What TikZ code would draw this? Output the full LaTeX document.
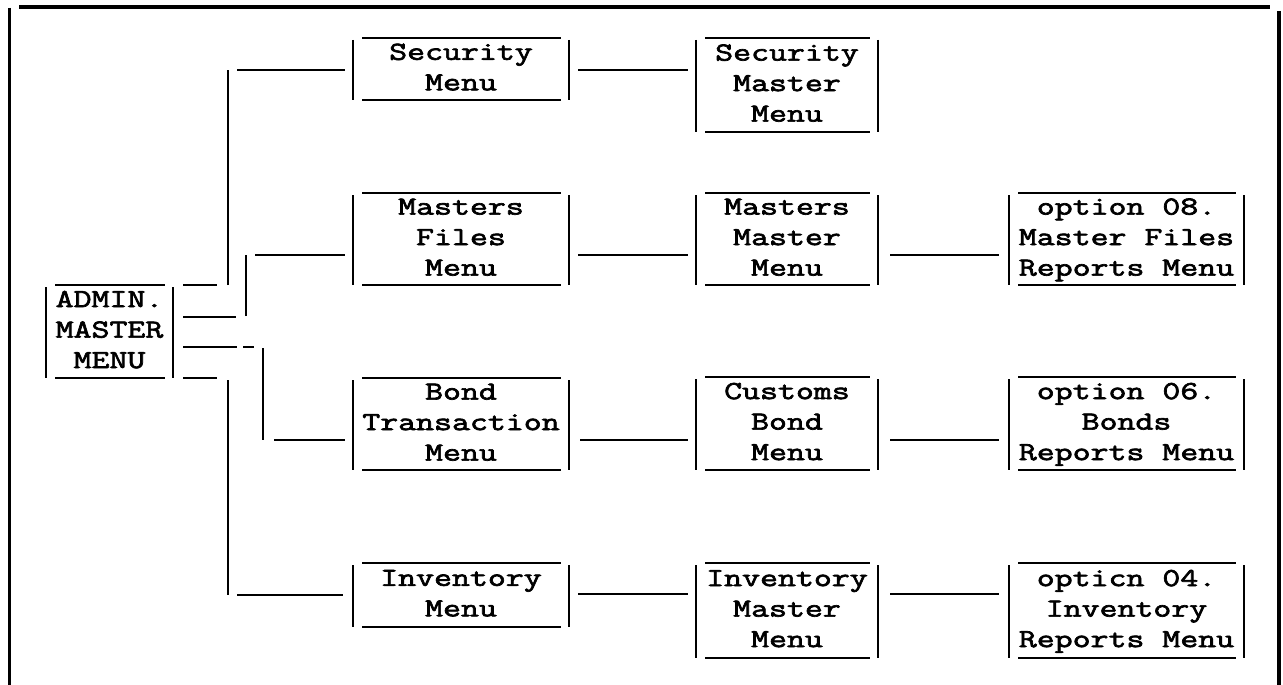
\documentclass[tikz,border=0pt]{standalone}
\usepackage{fontspec}
\usetikzlibrary{calc}
\newfontfamily\twfont{Latin Modern Mono}[FakeBold=2.6, FakeStretch=1.34]
\newcommand\twtext[1]{\raisebox{-3pt}{\begin{tabular}{@{}c@{}}#1\end{tabular}}}
\newcommand\twbox[1]{%
  \draw ($(#1.north west)+(0,2)$) -- (#1.south west);
  \draw ($(#1.north east)+(0,2)$) -- (#1.south east);
  \draw ($(#1.north west)+(9,0)$) -- ($(#1.north east)+(-8,0)$);
  \draw ($(#1.south west)+(9,0)$) -- ($(#1.south east)+(-8,0)$);}
\tikzset{
  menubox/.style={inner sep=0pt, outer sep=0pt,
    font=\twfont\fontsize{26}{30.5}\selectfont},
  col1/.style={menubox, minimum width=216pt},
  col2/.style={menubox, minimum width=182pt},
  col3/.style={menubox, minimum width=235pt},
  frame/.style={line width=3.2pt},
}
\begin{document}
\begin{tikzpicture}[x=1pt, y=-1pt, line width=2.8pt]
\useasboundingbox (0,0) rectangle (1283,685);
% outer frame
\draw[frame] (19,7) -- (1270,7);
\draw[frame] (9.5,8) -- (9.5,685);
\draw[frame] (1279,11) -- (1279,685);

% nodes
\node[menubox, minimum width=127pt, minimum height=93pt] (admin) at (109.5,331.5) {\twtext{ADMIN.\\MASTER\\MENU}};

\node[col1, minimum height=62pt] (secm) at (461,69) {\twtext{Security\\Menu}};
\node[col1, minimum height=92pt] (mfm) at (461,239) {\twtext{Masters\\Files\\Menu}};
\node[col1, minimum height=92pt] (btm) at (461,424) {\twtext{Bond\\Transaction\\Menu}};
\node[col1, minimum height=64pt] (invm) at (461,595) {\twtext{Inventory\\Menu}};

\node[col2, minimum height=94pt] (smm) at (787,85) {\twtext{Security\\Master\\Menu}};
\node[col2, minimum height=92pt] (mmm) at (787,239) {\twtext{Masters\\Master\\Menu}};
\node[col2, minimum height=93pt] (cbm) at (787,423.5) {\twtext{Customs\\Bond\\Menu}};
\node[col2, minimum height=95pt] (imm) at (787,610.5) {\twtext{Inventory\\Master\\Menu}};

\node[col3, minimum height=92pt] (o08) at (1126.5,239) {\twtext{option 08.\\Master Files\\Reports Menu}};
\node[col3, minimum height=93pt] (o06) at (1126.5,423.5) {\twtext{option 06.\\Bonds\\Reports Menu}};
\node[col3, minimum height=95pt] (o04) at (1126.5,610.5) {\twtext{opticn 04.\\Inventory\\Reports Menu}};

\foreach \b in {admin,secm,mfm,btm,invm,smm,mmm,cbm,imm,o08,o06,o04}{\twbox{\b}}

% row levels
\coordinate (r1) at (0,70);
\coordinate (r2) at (0,255);
\coordinate (r3) at (0,440);
\coordinate (r4) at (0,594);

% junctions of the tree
\coordinate (a1) at (228,285); \coordinate (a2) at (228,70);
\coordinate (b1) at (246,316); \coordinate (b2) at (246,255);
\coordinate (c1) at (263,348); \coordinate (c2) at (263,440);
\coordinate (d1) at (228,380); \coordinate (d2) at (228,595);

% tree from admin
\draw ($(admin.north east)+(10,0)$) -- ($(a1)+(-11,0)$);
\draw (a1) -- (a2);
\draw ($(a2)+(9,0)$) -- ($(secm.west |- a2)+(-8,0)$);

\draw ($(admin.east |- b1)+(10,1)$) -- ($(b1)+(-10,1)$);
\draw (b1) -- (b2);
\draw ($(b2)+(9,0)$) -- ($(mfm.west |- b2)+(-8,0)$);

\draw ($(admin.east |- c1)+(10,-1)$) -- ($(c1)+(-26,-1)$);
\draw ($(c1)+(-20,-1)$) -- ($(c1)+(-9,-1)$);
\draw (c1) -- (c2);
\draw ($(c2)+(11,0)$) -- ($(btm.west |- c2)+(-8,0)$);

\draw ($(admin.south east)+(10,0)$) -- ($(d1)+(-11,-2)$);
\draw (d1) -- (d2);
\draw ($(d2)+(9,0)$) -- ($(invm.west |- d2)+(-10,0)$);

% column 1 -> column 2
\draw ($(secm.east |- r1)+(9,0)$) -- ($(smm.west |- r1)+(-8,0)$);
\draw ($(mfm.east |- r2)+(9,0)$) -- ($(mmm.west |- r2)+(-8,0)$);
\draw ($(btm.east |- r3)+(11,0)$) -- ($(cbm.west |- r3)+(-8,0)$);
\draw ($(invm.east |- r4)+(9,0)$) -- ($(imm.west |- r4)+(-8,0)$);

% column 2 -> column 3
\draw ($(mmm.east |- r2)+(12,0)$) -- ($(o08.west |- r2)+(-10,0)$);
\draw ($(cbm.east |- r3)+(12,0)$) -- ($(o06.west |- r3)+(-10,0)$);
\draw ($(imm.east |- r4)+(12,0)$) -- ($(o04.west |- r4)+(-10,0)$);
\end{tikzpicture}
\end{document}
